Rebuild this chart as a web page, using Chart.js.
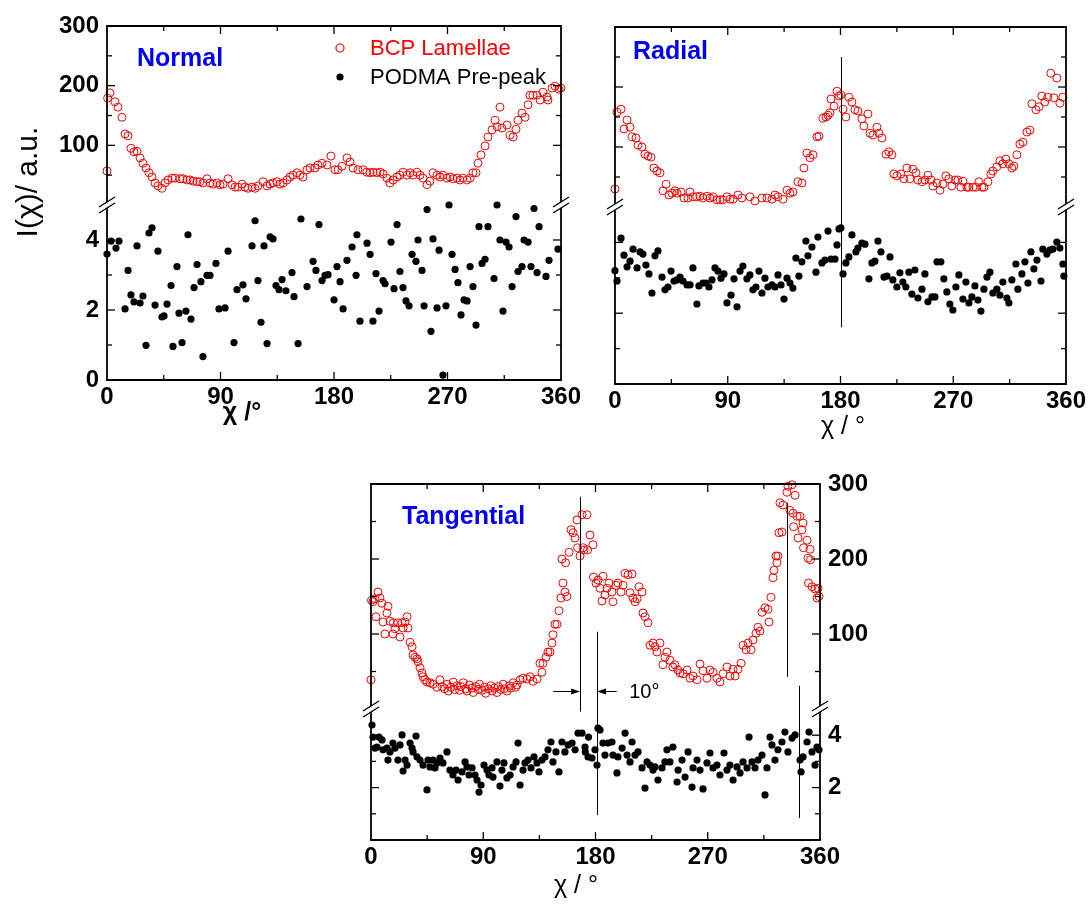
<!DOCTYPE html>
<html>
<head>
<meta charset="utf-8">
<script src="https://cdn.jsdelivr.net/npm/chart.js@4.4.1/dist/chart.umd.min.js"></script>
<style>
  body { margin: 0; background: #fff; width: 1090px; height: 906px; position: relative; overflow: hidden; }
  canvas { position: absolute; }
</style>
</head>
<body>
<canvas id="cNormal" width="590" height="440" style="left:0;top:0"></canvas>
<canvas id="cRadial" width="520" height="450" style="left:570px;top:0"></canvas>
<canvas id="cTangential" width="600" height="466" style="left:300px;top:440px"></canvas>
<script>
// ---- tick values / labels ----
const chiTicks = [0, 45, 90, 135, 180, 225, 270, 315, 360];
const chiLabels = [0, 90, 180, 270, 360];
const upperTicks = [0, 50, 100, 150, 200, 250, 300];
const upperLabels = [100, 200, 300];
const lowerTicks = [0, 1, 2, 3, 4, 5];

// ---- Normal ----
const normalBcpChi = [0, 0.5, 2.4, 6.3, 8.7, 11.9, 14.3, 16.7, 19, 21.4,
  23.8, 26.2, 28.5, 30.9, 33.3, 35.7, 38.1, 40.4, 43.6, 46,
  48.4, 51.5, 53.9, 57.9, 60.3, 63.4, 65.8, 68.2, 71.4, 73.7,
  76.1, 79.3, 81.7, 84, 87.2, 89.6, 92, 96, 99.1, 101.5,
  103.9, 107.1, 109.4, 111.8, 115, 117.4, 119.7, 123.7, 126.9, 129.3,
  131.6, 134.8, 137.2, 139.6, 142.7, 145.1, 147.5, 150.7, 153, 155.4,
  158.6, 161, 164.9, 167.3, 170.5, 174.5, 177.6, 180.8, 183.2, 186.4,
  190.3, 192.7, 195.1, 199, 203, 206, 208.6, 211, 214, 216.5,
  219, 222, 224.4, 226.8, 230, 232.3, 234.7, 237.9, 240.3, 242.7,
  245.8, 248.2, 250.6, 253.8, 256.1, 258.5, 261.7, 264.1, 266.4, 269.6,
  272, 274.4, 277.6, 279.9, 282.3, 285.5, 287.9, 290.2, 292.6, 294.2,
  296.6, 299.8, 302.1, 305.3, 307.7, 309.3, 311.6, 313.2, 317.2, 319.6,
  322, 324.3, 325.9, 329.1, 331.5, 333.9, 335.4, 337.8, 341, 343.4,
  345.7, 348.9, 349.7, 352.9, 355.3, 358.4, 360];
const normalBcpI = [57, 179, 188, 173, 164, 147, 119, 116, 95, 89,
  90, 79, 70, 62, 54, 47, 37, 32, 28, 37,
  42, 45, 45, 44, 44, 42, 42, 40, 39, 39,
  37, 44, 37, 35, 37, 34, 35, 44, 34, 30,
  30, 35, 30, 28, 30, 28, 32, 39, 32, 35,
  37, 39, 35, 37, 42, 47, 50, 54, 50, 47,
  59, 62, 62, 67, 70, 67, 82, 59, 59, 65,
  79, 72, 62, 59, 59, 55, 54, 55, 54, 55,
  52, 45, 37, 42, 47, 50, 55, 50, 54, 50,
  55, 50, 45, 34, 40, 54, 50, 47, 50, 45,
  47, 44, 45, 42, 45, 42, 45, 54, 54, 70,
  84, 99, 114, 126, 142, 131, 164, 129, 134, 117,
  114, 127, 142, 154, 147, 168, 184, 184, 184, 176,
  189, 181, 176, 196, 199, 194, 196];
const normalPodmaChi = [0, 3.2, 7.1, 9.5, 14.3, 16.7, 19, 21.4, 23.8, 26.2,
  28.5, 30.9, 33.3, 35.7, 38.1, 40.4, 43.6, 45.2, 47.6, 50.8,
  52.3, 55.5, 57.1, 59.5, 62.6, 64.2, 66.6, 69, 71.4, 74.5,
  76.1, 79.3, 81.7, 86.4, 88.8, 93.6, 96, 100.7, 103.1, 107.8,
  110.2, 115, 117.4, 119.7, 122.1, 124.5, 126.9, 129.3, 131.6, 134,
  136.4, 138.8, 141.9, 146.7, 148.3, 151.5, 153.8, 158.6, 163.4, 165.7,
  168.1, 170.5, 172.9, 175.3, 180, 182.4, 184.8, 187.2, 190.3, 194.3,
  197.5, 198.2, 200.6, 206.2, 208.6, 210.9, 213.3, 215.7, 218.9, 220.5,
  225.2, 227.6, 230, 232.3, 234.7, 237.1, 239.5, 241.9, 245, 246.6,
  249.8, 251.4, 253.8, 256.9, 258.5, 261.7, 263.3, 266.4, 268.8, 271.2,
  273.6, 276, 278.3, 280.7, 283.1, 285.5, 287.9, 290.2, 292.6, 295,
  297.4, 299.8, 302.1, 306.9, 309.3, 311.6, 314, 316.4, 318.8, 321.2,
  324.3, 325.9, 329.1, 330.7, 333.9, 336.2, 338.6, 341, 342.6, 348.1,
  350.5, 357.6];
const normalPodmaI = [3.6, 3.97, 3.77, 3.97, 2.03, 3.13, 2.43, 2.23, 3.83, 2.2,
  2.4, 0.99, 4.2, 4.35, 2.14, 3.68, 1.8, 1.83, 2.17, 2.7,
  0.96, 3.24, 1.91, 1.07, 1.97, 4.15, 1.74, 2.64, 3.3, 2.81,
  0.67, 2.99, 2.99, 3.33, 2.03, 2.06, 3.68, 1.07, 2.58, 2.72,
  2.32, 3.83, 4.55, 2.84, 1.65, 3.83, 1.04, 4.09, 4.03, 2.7,
  2.58, 2.87, 2.55, 3.07, 2.38, 1.04, 4.6, 2.67, 3.39, 3.13,
  4.44, 2.84, 2.99, 3.01, 2.29, 3.24, 2.81, 2.03, 3.42, 3.8,
  2.99, 4.15, 1.68, 3.91, 3.59, 1.68, 3.04, 1.97, 2.84, 2.75,
  3.94, 2.61, 4.44, 3.1, 2.64, 2.26, 2.12, 3.59, 3.39, 4.0,
  3.13, 2.12, 4.87, 1.39, 4.03, 2.06, 3.71, 0.14, 2.12, 5.0,
  3.59, 3.16, 2.78, 1.86, 2.29, 2.26, 3.24, 2.67, 1.57, 4.38,
  3.33, 3.45, 4.38, 2.9, 5.0, 4.0, 1.97, 3.94, 3.8, 2.67,
  4.67, 3.1, 3.24, 4.0, 3.94, 3.24, 4.9, 3.07, 4.38, 2.96,
  3.42, 3.74];

// ---- Radial ----
const radialBcpChi = [0, 1.6, 4.8, 7.2, 9.6, 12, 13.6, 16.8, 18.4, 21.5,
  23.9, 26.3, 28.7, 31.1, 33.5, 35.9, 38.3, 40.7, 43.1, 45.5,
  47.9, 49.5, 52.7, 55.1, 58.3, 59.9, 62.2, 65.4, 67.8, 70.2,
  73.4, 75.8, 78.2, 81.4, 83.8, 86.2, 89.4, 91.8, 94.2, 98.2,
  101.3, 107.7, 111.7, 117.3, 121.3, 125.3, 127.7, 130.1, 134.1, 137.3,
  139.7, 142, 146, 149.2, 150.8, 153.2, 155.6, 158, 161.2, 162.8,
  166, 168.4, 170, 171.6, 172.4, 174.8, 177.2, 178.8, 180.3, 182,
  184.3, 186.7, 189.1, 191.5, 193.9, 197.1, 198.7, 201.9, 203.5, 205.9,
  209.1, 210.7, 213.1, 216.3, 218.7, 221, 222.6, 225, 228.2, 230.6,
  233, 235.4, 237.8, 240.2, 241.8, 245, 247.4, 249.8, 252.2, 253.8,
  257, 259.4, 261.7, 264.1, 266.5, 268.9, 271.3, 273.7, 276.1, 277.7,
  280.9, 282.5, 285.7, 288.1, 290.5, 292.9, 294.5, 297.7, 300, 301.6,
  304.8, 307.2, 309.6, 312, 314.4, 316.8, 318.4, 320.8, 323.2, 325.6,
  328.8, 331.2, 332.8, 336, 338.4, 340.7, 343.1, 345.5, 347.9, 350.3,
  352.7, 355.1, 357.5];
const radialBcpI = [30, 158, 163, 130, 145, 133, 117, 115, 103, 100,
  88, 85, 83, 65, 60, 57, 27, 38, 20, 23,
  27, 23, 25, 15, 15, 25, 17, 17, 18, 15,
  18, 15, 17, 12, 12, 12, 17, 13, 13, 20,
  15, 17, 10, 15, 15, 13, 20, 17, 13, 28,
  23, 25, 42, 40, 65, 90, 82, 87, 117, 118,
  148, 150, 153, 157, 180, 168, 193, 185, 187, 163,
  150, 183, 175, 162, 160, 147, 135, 155, 123, 120,
  133, 123, 115, 88, 92, 87, 55, 52, 55, 47,
  65, 47, 63, 57, 45, 42, 45, 53, 45, 35,
  40, 28, 38, 52, 47, 35, 45, 45, 33, 43,
  33, 33, 33, 33, 42, 33, 33, 42, 55, 60,
  67, 77, 72, 80, 72, 65, 68, 87, 105, 108,
  125, 128, 172, 162, 167, 185, 175, 183, 223, 182,
  215, 173, 183];
const radialPodmaChi = [0, 1.6, 4.8, 7.2, 9.6, 12, 14.4, 17.6, 20, 22.3,
  24.7, 27.1, 29.5, 31.9, 34.3, 37.5, 39.9, 42.3, 44.7, 47.1,
  49.5, 51.9, 54.3, 57.5, 59.9, 62.2, 65.4, 67, 70.2, 72.6,
  75, 77.4, 79.8, 82.2, 84.6, 87, 89.4, 92.6, 95, 97.4,
  99.8, 102.1, 105.3, 107.7, 110.1, 112.5, 114.9, 117.3, 119.7, 122.1,
  125.3, 127.7, 130.1, 132.5, 134.9, 137.3, 139.7, 142, 144.4, 146.8,
  149.2, 152.4, 154, 157.2, 160.4, 162, 165.2, 167.6, 170, 172.4,
  175.6, 177.2, 178.8, 180.3, 182, 184.3, 186.7, 189.1, 192.3, 193.9,
  197.1, 199.5, 202.7, 205.1, 207.5, 209.9, 212.3, 214.7, 217.1, 219.5,
  221.8, 225, 227.4, 229.8, 232.2, 234.6, 237, 239.4, 241.8, 245,
  247.4, 249.8, 253, 255.4, 257, 260.1, 262.5, 264.9, 267.3, 269.7,
  272.1, 274.5, 277.7, 280.1, 282.5, 284.9, 287.3, 289.7, 292.1, 294.5,
  296.9, 299.3, 301.6, 304.8, 307.2, 309.6, 312.8, 314.4, 316.8, 320,
  321.6, 324.8, 327.2, 329.6, 332, 334.4, 336.8, 340, 341.5, 344.7,
  347.1, 349.5, 352.7, 355.1, 357.5, 358.3];
const radialPodmaI = [3.2, 2.91, 4.12, 3.64, 3.31, 3.47, 3.81, 3.28, 3.73, 3.67,
  3.36, 3.11, 2.57, 3.62, 3.76, 3.02, 2.66, 2.74, 3.19, 2.91,
  2.94, 3.02, 2.91, 2.8, 2.8, 3.28, 2.26, 2.77, 2.85, 2.85,
  2.74, 2.94, 3.28, 3.19, 2.99, 3.11, 2.29, 2.51, 2.97, 2.18,
  3.19, 3.33, 2.97, 3.08, 2.66, 2.74, 3.19, 2.57, 2.99, 2.74,
  2.8, 2.74, 3.08, 2.8, 2.4, 2.99, 2.85, 2.71, 3.56, 3.05,
  3.45, 4.04, 3.62, 3.87, 3.16, 4.15, 3.42, 3.5, 4.32, 3.53,
  3.53, 3.93, 4.38, 4.41, 3.11, 3.42, 3.59, 4.21, 3.73, 3.84,
  3.98, 3.95, 2.97, 3.42, 3.47, 4.04, 3.73, 3.02, 3.05, 3.59,
  2.94, 2.74, 3.14, 2.88, 2.74, 3.16, 2.54, 3.22, 2.43, 2.68,
  3.11, 2.32, 2.46, 2.46, 3.45, 3.45, 2.97, 2.6, 2.26, 2.09,
  2.74, 3.08, 2.4, 2.88, 2.29, 2.46, 2.77, 2.37, 2.06, 2.68,
  3.02, 3.16, 2.57, 2.68, 2.51, 2.88, 2.43, 2.29, 2.94, 3.39,
  2.68, 3.11, 3.45, 2.85, 3.73, 3.25, 3.5, 2.91, 3.81, 3.67,
  3.78, 3.81, 4.01, 3.84, 3.39, 3.05];

// ---- Tangential ----
const tangBcpChi = [0, 0.4, 1.6, 3.2, 4, 5.6, 7.2, 8.8, 9.6, 11.2,
  12.8, 13.6, 15.2, 17.6, 18, 19.2, 21.6, 23.3, 24.9, 25.7,
  27.3, 28.9, 29.7, 31.3, 32.9, 33.7, 35.3, 36.9, 37.7, 39.3,
  40.9, 41.7, 43.3, 44.9, 47.3, 49.7, 52.9, 55.3, 57, 59,
  61, 62, 64, 66, 67, 69, 71, 72, 74, 76,
  77, 79, 81, 82, 84, 86, 87, 89, 91, 92,
  94, 96, 97, 99, 101, 102, 104, 106, 107, 109,
  111, 112, 114, 116, 117, 119.5, 121.9, 125.1, 127.5, 129.9,
  133.1, 135.5, 137.1, 137.9, 140.3, 141.9, 143.5, 145.1, 145.9, 147.5,
  149.1, 150.7, 152.3, 153.1, 153.9, 155.5, 156, 157.1, 158.8, 160.4,
  162, 163.6, 165.2, 165.6, 167.6, 169.2, 170, 170.8, 173.2, 173.6,
  175.6, 178, 178.4, 180.4, 182, 183.6, 185.2, 186, 187.6, 189.2,
  190.8, 193.2, 194, 196.4, 198, 200.5, 202.1, 203.7, 206.1, 207.7,
  209.3, 210.1, 211.7, 213.3, 214.9, 217.3, 218.1, 219.7, 222.1, 223.7,
  226.1, 227.7, 229.3, 231.7, 234.1, 235.7, 237.3, 239.7, 242.1, 243.7,
  246.1, 247.8, 250.2, 253.4, 255.8, 258.2, 261.4, 263.8, 266.2, 269.4,
  271.8, 274.2, 277.4, 279.8, 282.2, 285.4, 287.8, 290.3, 291.9, 294.3,
  296.7, 298.3, 300.7, 302.3, 304.7, 306.3, 308.7, 310.3, 311.9, 313.5,
  315.9, 318.3, 319.1, 320.7, 322.3, 323.1, 324.7, 325.5, 326.3, 327.1,
  327.9, 329.5, 330.3, 333.5, 334.3, 335.9, 337.6, 338.4, 338.8, 340,
  341.6, 342.4, 344, 345.6, 346.4, 346.8, 349.6, 350.4, 350.8, 352,
  352.4, 353.6, 356, 357.6, 358.4, 359.2];
const tangBcpI = [39, 145, 143, 147, 123, 156, 148, 141, 116, 100,
  128, 137, 117, 100, 115, 107, 115, 96, 115, 108,
  116, 123, 108, 89, 83, 72, 69, 67, 63, 55,
  48, 43, 39, 36, 35, 33, 29, 39, 30, 27,
  33, 24, 29, 36, 26, 31, 25, 30, 35, 27,
  24, 32, 28, 22, 30, 26, 33, 25, 29, 21,
  27, 31, 24, 28, 22, 30, 26, 33, 27, 24,
  31, 28, 35, 29, 32, 39, 41, 40, 43, 37,
  40, 61, 49, 61, 69, 76, 76, 88, 99, 113,
  113, 131, 148, 200, 168, 156, 195, 150, 209, 239,
  235, 228, 252, 215, 204, 259, 215, 212, 259, 212,
  232, 219, 176, 168, 172, 161, 144, 177, 152, 161,
  168, 156, 143, 165, 168, 156, 165, 181, 179, 155,
  180, 148, 143, 147, 163, 156, 128, 123, 115, 85,
  88, 83, 76, 88, 59, 69, 76, 65, 56, 59,
  52, 48, 47, 52, 41, 44, 39, 60, 51, 41,
  52, 49, 41, 36, 47, 56, 44, 53, 44, 53,
  61, 85, 79, 88, 79, 92, 101, 109, 104, 129,
  135, 133, 116, 149, 175, 185, 204, 195, 204, 235,
  275, 236, 272, 289, 297, 265, 299, 261, 243, 285,
  257, 228, 257, 239, 248, 215, 225, 201, 168, 213,
  199, 163, 160, 148, 161, 150];
const tangPodmaChi = [0.8, 1.6, 3.2, 4.8, 6.4, 8.8, 9.6, 12.8, 13.6, 15.2,
  17.6, 19.2, 21.6, 23.3, 24.9, 25.7, 27.3, 28.9, 31.3, 32.9,
  33.7, 36.1, 36.9, 39.3, 41.7, 44.9, 45.7, 47.3, 49.7, 51.3,
  52.9, 55.3, 57.7, 60.9, 63.3, 65.7, 68.2, 69.8, 73, 75.4,
  77, 78.6, 81, 83.4, 85, 86.6, 88.2, 90.6, 93, 94.6,
  97, 97.8, 101, 103.4, 105, 106.6, 109, 111.5, 113.9, 116.3,
  117.9, 119.5, 121.9, 123.5, 125.9, 128.3, 130.7, 133.1, 134.7, 137.1,
  139.5, 141.9, 144.3, 145.9, 148.3, 150.7, 153.1, 155.5, 158, 161.2,
  163.6, 166, 169.2, 171.6, 171.8, 174, 174.4, 177.2, 179.6, 181.2,
  182, 183.6, 186, 187.6, 190, 193.2, 194, 197.2, 198, 201.3,
  203.7, 205.3, 207.7, 209.3, 211.7, 214.1, 217.3, 219.7, 221.3, 223.7,
  226.1, 227.7, 230.1, 233.3, 235.7, 237.3, 239.7, 242.1, 245.4, 246.2,
  249.4, 251.8, 254.2, 257.4, 258.2, 261.4, 263.8, 266.2, 269.4, 271.8,
  274.2, 277.4, 279.8, 283, 285.4, 287.8, 290.3, 293.5, 295.9, 298.3,
  301.5, 303.1, 305.5, 307.9, 310.3, 313.5, 315.9, 317.5, 319.9, 321.5,
  323.9, 326.3, 329.5, 331.9, 334.3, 337.6, 340, 344, 344.8, 346.4,
  349.6, 351.2, 353.6, 356, 357.6, 359.2];
const tangPodmaI = [4.39, 3.93, 3.51, 3.55, 3.93, 3.82, 3.44, 3.51, 3.05, 3.36,
  3.7, 3.51, 3.05, 3.63, 4.01, 2.63, 3.05, 2.86, 3.7, 3.51,
  3.36, 3.97, 3.17, 3.05, 2.86, 1.91, 3.05, 2.79, 3.05, 2.75,
  2.94, 3.13, 2.94, 3.36, 2.67, 2.48, 2.67, 2.29, 2.6, 2.98,
  2.79, 2.48, 2.75, 2.48, 2.29, 1.83, 2.1, 2.86, 2.67, 2.48,
  2.75, 2.4, 2.98, 2.06, 2.67, 2.94, 2.37, 2.48, 2.79, 2.98,
  3.7, 2.1, 2.67, 2.94, 3.05, 2.75, 3.17, 2.94, 2.6, 3.05,
  3.17, 3.44, 3.74, 2.98, 3.36, 2.6, 3.74, 3.36, 3.63, 3.7,
  3.44, 4.08, 4.08, 3.55, 3.36, 3.17, 3.93, 3.13, 3.44, 2.86,
  4.27, 4.2, 3.7, 3.24, 3.7, 3.74, 3.24, 2.56, 3.17, 3.51,
  4.08, 3.24, 2.98, 3.74, 3.24, 3.36, 2.75, 1.98, 2.98, 2.86,
  2.67, 2.79, 2.29, 2.75, 2.98, 3.44, 2.98, 3.55, 2.21, 2.67,
  3.05, 2.4, 3.36, 2.02, 2.75, 3.05, 2.67, 1.95, 2.94, 3.32,
  2.75, 2.86, 2.48, 3.32, 2.67, 2.86, 2.29, 2.79, 2.56, 2.98,
  2.75, 3.93, 2.98, 2.75, 3.05, 3.24, 1.72, 2.75, 3.93, 3.63,
  3.05, 3.44, 3.74, 4.12, 3.36, 3.89, 4.01, 3.05, 2.6, 3.17,
  3.74, 4.12, 3.36, 2.86, 3.55, 3.44];

const FONT = '"Liberation Sans", Arial, sans-serif';
const RED = '#ff0000';
const BLUE = '#0000ff';

function pts(xs, ys) {
  return xs.map((x, i) => ({ x: x, y: ys[i] }));
}

// frame, inward ticks, axis breaks, guide lines and texts
const deco = {
  id: 'deco',
  afterDraw(chart, args, o) {
    const { ctx, chartArea: a, scales } = chart;
    const x = scales.x, yU = scales.yU, yL = scales.yL;
    const brk = yU.bottom;
    const seg = (x1, y1, x2, y2) => { ctx.beginPath(); ctx.moveTo(x1, y1); ctx.lineTo(x2, y2); ctx.stroke(); };
    const py = (ref) => scales[ref[0]].getPixelForValue(ref[1]);
    ctx.save();
    ctx.strokeStyle = '#000';
    ctx.fillStyle = '#000';

    // frame
    ctx.lineWidth = 1.8;
    seg(a.left - 0.9, a.top, a.right + 0.9, a.top);
    seg(a.left - 0.9, a.bottom, a.right + 0.9, a.bottom);
    [a.left, a.right].forEach(sx => {
      seg(sx, a.top, sx, brk - 3);
      seg(sx, brk + 3, sx, a.bottom);
    });

    // ticks (inward)
    ctx.lineWidth = 1.3;
    chiTicks.forEach(v => {
      if (v === 0 || v === 360) return;
      const px = x.getPixelForValue(v);
      const len = chiLabels.includes(v) ? 8 : 5;
      seg(px, a.bottom, px, a.bottom - len);
      seg(px, a.top, px, a.top + len);
    });
    upperTicks.forEach(v => {
      if (v <= 0 || v >= 300) return;
      const p = yU.getPixelForValue(v);
      const len = upperLabels.includes(v) ? 8 : 5;
      seg(a.left, p, a.left + len, p);
      seg(a.right, p, a.right - len, p);
    });
    lowerTicks.forEach(v => {
      if (v <= 0 || v >= 5) return;
      const p = yL.getPixelForValue(v);
      const len = v % 2 === 0 ? 8 : 5;
      seg(a.left, p, a.left + len, p);
      seg(a.right, p, a.right - len, p);
    });

    // axis break marks
    ctx.lineWidth = 1.4;
    [a.left, a.right].forEach(sx => {
      [-3, 3].forEach(d => seg(sx - 8, brk + d + 5, sx + 8, brk + d - 5));
    });

    // vertical guide lines
    ctx.lineWidth = 1;
    (o.guides || []).forEach(g => {
      const px = Math.round(x.getPixelForValue(g.chi)) + 0.5;
      seg(px, py(g.from), px, py(g.to));
    });

    // arrows
    (o.arrows || []).forEach(g => {
      const x1 = x.getPixelForValue(g.from), x2 = x.getPixelForValue(g.to);
      const yy = Math.round(py(g.y)) + 0.5;
      const dir = Math.sign(x2 - x1);
      seg(x1, yy, x2 - dir * 6, yy);
      ctx.beginPath();
      ctx.moveTo(x2, yy);
      ctx.lineTo(x2 - dir * 9, yy - 3);
      ctx.lineTo(x2 - dir * 9, yy + 3);
      ctx.closePath();
      ctx.fill();
    });

    // texts
    (o.texts || []).forEach(t => {
      ctx.save();
      ctx.font = t.font;
      ctx.fillStyle = t.color || '#000';
      ctx.textAlign = t.align || 'left';
      ctx.textBaseline = 'alphabetic';
      let tx, ty;
      if (t.data) {
        tx = x.getPixelForValue(t.data[0]);
        ty = scales[t.data[1]].getPixelForValue(t.data[2]);
      } else {
        tx = (t.fromRight ? a.right : a.left) + t.dx;
        ty = (t.fromBottom ? a.bottom : a.top) + t.dy;
      }
      if (t.abs) { tx = t.abs[0]; ty = t.abs[1]; }
      ctx.translate(tx, ty);
      if (t.rotate) ctx.rotate(t.rotate);
      ctx.fillText(t.text, 0, 0);
      ctx.restore();
    });

    // legend
    if (o.legend) {
      const ds = chart.data.datasets;
      o.legend.forEach((l, i) => {
        const d = ds[i];
        const cx = a.left + l.dx, cy = a.top + l.dy;
        ctx.beginPath();
        ctx.arc(cx, cy, d.pointRadius, 0, Math.PI * 2);
        if (i === 0) { ctx.strokeStyle = d.borderColor; ctx.lineWidth = 1.2; ctx.stroke(); }
        else { ctx.fillStyle = d.backgroundColor; ctx.fill(); }
        ctx.font = '22px ' + FONT;
        ctx.fillStyle = i === 0 ? RED : '#000';
        ctx.textAlign = 'left';
        ctx.fillText(d.label, cx + 30, cy + 7);
      });
    }
    ctx.restore();
  }
};

function makePanel(id, p) {
  const tickFont = { family: FONT, size: 24, weight: 'bold' };
  const yCommon = (extra) => Object.assign({
    type: 'linear',
    position: p.yPos,
    stack: 'panel',
    grid: { display: false, drawTicks: false },
    border: { display: false },
    afterFit: s => { s.width = p.yw; }
  }, extra);
  return new Chart(document.getElementById(id), {
    type: 'scatter',
    data: {
      datasets: [
        {
          label: 'BCP Lamellae',
          data: pts(p.bcpChi, p.bcpI),
          yAxisID: 'yU',
          pointStyle: 'circle',
          pointRadius: 4,
          borderColor: RED,
          backgroundColor: 'rgba(0,0,0,0)',
          borderWidth: 1,
          clip: false
        },
        {
          label: 'PODMA Pre-peak',
          data: pts(p.podChi, p.podI),
          yAxisID: 'yL',
          pointStyle: 'circle',
          pointRadius: 3.6,
          borderColor: '#000',
          backgroundColor: '#000',
          borderWidth: 0,
          clip: false
        }
      ]
    },
    options: {
      responsive: false,
      animation: false,
      events: [],
      layout: { padding: p.pad },
      plugins: {
        legend: { display: false },
        tooltip: { enabled: false },
        deco: p.deco
      },
      scales: {
        x: {
          type: 'linear',
          position: 'bottom',
          min: 0,
          max: 360,
          grid: { display: false, drawTicks: false },
          border: { display: false },
          afterBuildTicks: s => { s.ticks = chiTicks.map(v => ({ value: v })); },
          afterFit: s => { s.height = p.xh; },
          ticks: {
            autoSkip: false,
            maxRotation: 0,
            padding: 3,
            color: '#000',
            font: tickFont,
            callback: v => chiLabels.includes(v) ? String(v) : ''
          }
        },
        yU: yCommon({
          min: 0,
          max: 300,
          stackWeight: p.wU,
          weight: p.yPos === 'left' ? 2 : 1,
          afterBuildTicks: s => { s.ticks = upperTicks.map(v => ({ value: v })); },
          ticks: {
            display: p.showY,
            autoSkip: false,
            padding: 8,
            color: '#000',
            font: tickFont,
            callback: v => upperLabels.includes(v) ? String(v) : ''
          }
        }),
        yL: yCommon({
          min: 0,
          max: 5,
          stackWeight: p.wL,
          weight: p.yPos === 'left' ? 1 : 2,
          afterBuildTicks: s => { s.ticks = lowerTicks.map(v => ({ value: v })); },
          ticks: {
            display: p.showY,
            autoSkip: false,
            padding: 8,
            color: '#000',
            font: tickFont,
            callback: v => p.lowerLabels.includes(v) ? String(v) : ''
          }
        })
      }
    },
    plugins: [deco]
  });
}

makePanel('cNormal', {
  bcpChi: normalBcpChi, bcpI: normalBcpI, podChi: normalPodmaChi, podI: normalPodmaI,
  yPos: 'left', yw: 107, xh: 60, wU: 179, wL: 175, showY: true, lowerLabels: [0, 2, 4],
  pad: { left: 0, right: 29, top: 26, bottom: 0 },
  deco: {
    texts: [
      { text: 'Normal', dx: 30, dy: 40, font: 'bold 25px ' + FONT, color: BLUE },
      { text: '\u03c7 /\u00b0', dx: 135, dy: 40, fromBottom: true, align: 'center', font: 'bold 25px ' + FONT },
      { text: 'I(\u03c7)/ a.u.', abs: [37, 182], rotate: -Math.PI / 2, align: 'center', font: '30px ' + FONT }
    ],
    legend: [{ dx: 233, dy: 22 }, { dx: 233, dy: 51 }]
  }
});

makePanel('cRadial', {
  bcpChi: radialBcpChi, bcpI: radialBcpI, podChi: radialPodmaChi, podI: radialPodmaI,
  yPos: 'left', yw: 45, xh: 66, wU: 180, wL: 177, showY: false, lowerLabels: [],
  pad: { left: 0, right: 24, top: 27, bottom: 0 },
  deco: {
    guides: [{ chi: 180, from: ['yU', 250], to: ['yL', 1.6] }],
    texts: [
      { text: 'Radial', dx: 18, dy: 32, font: 'bold 25px ' + FONT, color: BLUE },
      { text: '\u03c7 / \u00b0', dx: 228, dy: 50, fromBottom: true, align: 'center', font: '25px ' + FONT }
    ]
  }
});

makePanel('cTangential', {
  bcpChi: tangBcpChi, bcpI: tangBcpI, podChi: tangPodmaChi, podI: tangPodmaI,
  yPos: 'right', yw: 80, xh: 66, wU: 225, wL: 131, showY: true, lowerLabels: [2, 4],
  pad: { left: 71, right: 0, top: 44, bottom: 0 },
  deco: {
    guides: [
      { chi: 167.6, from: ['yU', 283], to: ['yL', 4.9] },
      { chi: 181.2, from: ['yU', 103], to: ['yL', 0.95] },
      { chi: 333.5, from: ['yU', 275], to: ['yU', 43] },
      { chi: 342.8, from: ['yU', 31], to: ['yL', 0.84] }
    ],
    arrows: [
      { from: 146, to: 167.6, y: ['yU', 24] },
      { from: 197, to: 181.2, y: ['yU', 24] }
    ],
    texts: [
      { text: 'Tangential', dx: 31, dy: 40, font: 'bold 25px ' + FONT, color: BLUE },
      { text: '10\u00b0', data: [207, 'yU', 15], font: '20px ' + FONT },
      { text: '\u03c7 / \u00b0', dx: 205, dy: 53, fromBottom: true, align: 'center', font: '25px ' + FONT }
    ]
  }
});
</script>
</body>
</html>
